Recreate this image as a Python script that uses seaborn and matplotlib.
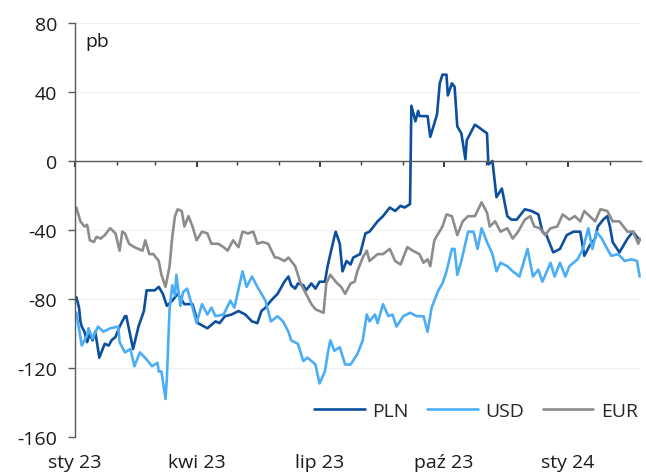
import pandas as pd
import seaborn as sns
import matplotlib.pyplot as plt
import matplotlib.dates as mdates
import matplotlib.transforms as mtransforms

# days counted from 1 Jan 2023, spread values in bp
pln_days = [1, 3, 4, 5, 7, 9, 11, 13, 15, 18, 20, 22, 25, 27, 30, 33, 37, 38, 43, 47,
            51, 53, 59, 62, 65, 68, 72, 76, 81, 87, 91, 98, 104, 107, 111, 116, 121, 126, 131, 135,
            138, 141, 145, 150, 155, 158, 160, 163, 165, 169, 171, 175, 178, 181, 185, 187, 189, 192, 193, 196,
            198, 201, 204, 206, 211, 215, 218, 224, 228, 233, 237, 241, 244, 246, 248, 249, 252, 254, 255, 261,
            263, 268, 270, 272, 275, 276, 279, 281, 283, 286, 289, 290, 296, 298, 305, 306, 309, 312, 316, 320,
            323, 327, 333, 338, 343, 346, 349, 354, 359, 364, 369, 374, 377, 381, 385, 387, 391, 394, 396, 398,
            403, 409, 413, 418]
pln_vals = [-79, -85, -93, -96, -99, -105, -100, -104, -99, -114, -110, -106, -107, -104, -102, -96, -90, -90, -109, -96,
            -87, -75, -75, -73, -77, -84, -81, -77, -83, -83, -94, -97, -93, -94, -90, -89, -87, -89, -93, -94,
            -87, -85, -81, -77, -70, -67, -72, -74, -71, -72, -75, -71, -74, -70, -70, -61, -54, -44, -41, -48,
            -64, -58, -60, -56, -54, -42, -41, -35, -32, -27, -29, -26, -27, -26, -25, 32, 23, 29, 26, 26,
            14, 27, 45, 50, 50, 38, 45, 43, 20, 16, 1, 12, 21, 20, 16, -2, 0, -21, -16, -32,
            -34, -34, -28, -29, -31, -41, -43, -53, -51, -43, -41, -41, -55, -49, -45, -38, -34, -32, -38, -47,
            -53, -45, -41, -46]

usd_days = [1, 5, 9, 10, 13, 17, 21, 26, 32, 33, 37, 41, 44, 48, 53, 57, 61, 62, 64, 67,
            68, 70, 72, 74, 75, 78, 80, 83, 87, 90, 94, 98, 101, 104, 110, 115, 118, 124, 127, 131,
            135, 138, 141, 145, 150, 154, 158, 160, 165, 169, 172, 178, 181, 185, 187, 189, 192, 196, 200, 204,
            209, 213, 216, 218, 222, 224, 228, 232, 235, 238, 243, 248, 253, 258, 261, 264, 269, 272, 275, 279,
            281, 283, 286, 291, 295, 298, 301, 305, 309, 312, 315, 320, 324, 329, 335, 339, 343, 346, 352, 355,
            359, 363, 366, 372, 376, 380, 383, 386, 390, 394, 397, 402, 407, 412, 416, 418]
usd_vals = [-88, -107, -101, -97, -103, -96, -99, -97, -96, -105, -111, -109, -119, -111, -115, -119, -117, -122, -122, -138,
            -126, -86, -72, -78, -66, -84, -76, -74, -85, -94, -83, -89, -85, -90, -89, -81, -85, -64, -73, -67,
            -73, -77, -81, -93, -90, -93, -99, -104, -106, -116, -114, -118, -129, -122, -112, -104, -110, -108, -118, -118,
            -112, -104, -89, -93, -89, -94, -83, -90, -89, -96, -90, -88, -90, -90, -99, -85, -75, -71, -64, -51,
            -51, -66, -58, -41, -41, -51, -39, -47, -54, -64, -59, -61, -64, -67, -51, -67, -63, -70, -59, -67,
            -59, -67, -61, -57, -51, -39, -51, -41, -45, -51, -55, -54, -58, -57, -58, -67]

eur_days = [1, 4, 7, 9, 11, 14, 16, 19, 22, 26, 30, 33, 35, 37, 40, 44, 50, 52, 55, 58,
            62, 64, 67, 70, 72, 74, 76, 79, 81, 84, 87, 90, 94, 98, 101, 106, 110, 113, 117, 121,
            124, 128, 132, 135, 139, 143, 148, 150, 155, 158, 163, 167, 171, 175, 178, 184, 186, 189, 193, 197,
            200, 204, 207, 209, 213, 216, 218, 224, 228, 233, 237, 241, 246, 250, 255, 258, 261, 263, 266, 272,
            275, 279, 283, 287, 291, 296, 301, 305, 307, 311, 315, 320, 324, 328, 333, 337, 340, 344, 348, 352,
            357, 361, 366, 370, 374, 377, 381, 385, 389, 394, 398, 403, 409, 413, 417, 418]
eur_vals = [-27, -35, -38, -37, -46, -47, -44, -45, -43, -39, -42, -52, -41, -42, -48, -50, -52, -46, -54, -54,
            -58, -66, -73, -61, -44, -32, -28, -29, -38, -32, -38, -46, -41, -42, -48, -48, -50, -52, -46, -50,
            -41, -42, -41, -48, -47, -48, -56, -56, -58, -56, -61, -71, -77, -83, -86, -88, -71, -66, -70, -73,
            -77, -71, -70, -64, -56, -52, -58, -54, -54, -51, -58, -60, -50, -52, -54, -59, -57, -61, -46, -38,
            -31, -32, -43, -35, -32, -32, -24, -30, -38, -35, -41, -39, -45, -41, -34, -32, -38, -39, -43, -39,
            -38, -31, -34, -32, -35, -29, -32, -35, -28, -29, -35, -35, -41, -41, -48, -45]

series_names = ["PLN", "USD", "EUR"]
colors = {"PLN": "#0b4f9e", "USD": "#4badf5", "EUR": "#8c8c8c"}

quarter_labels = ["sty 23", "kwi 23", "lip 23", "paź 23", "sty 24"]
quarter_dates = ["2023-01-01", "2023-04-01", "2023-07-01", "2023-10-01", "2024-01-01"]

start = pd.Timestamp("2023-01-01")

frames = []
for name, days, vals in [("PLN", pln_days, pln_vals), ("USD", usd_days, usd_vals), ("EUR", eur_days, eur_vals)]:
    frames.append(pd.DataFrame({
        "date": start + pd.to_timedelta(days, unit="D"),
        "value": vals,
        "series": name,
    }))
df = pd.concat(frames, ignore_index=True)

sns.set_theme(style="white")
plt.rcParams["font.family"] = ["Open Sans", "DejaVu Sans"]
plt.rcParams["axes.unicode_minus"] = False

fig = plt.figure(figsize=(6.46, 4.77), dpi=100)
ax = fig.add_axes([0.1161, 0.0818, 0.8762, 0.868])

sns.lineplot(data=df, x="date", y="value", hue="series", hue_order=series_names,
             palette=colors, linewidth=1.9, estimator=None, ax=ax)

ax.set_ylim(-160, 80)
ax.set_yticks(range(-160, 81, 40))
ax.set_xlim(start, start + pd.Timedelta(days=419))
ax.set_xlabel("")
ax.set_ylabel("")

# faint horizontal grid
ax.grid(axis="y", color="#efefef", linewidth=0.8)
ax.grid(axis="x", visible=False)
ax.set_axisbelow(True)

# axes: left spine, x axis line at zero
for s in ["top", "right"]:
    ax.spines[s].set_visible(False)
ax.spines["left"].set_color("#5a5a5a")
ax.spines["left"].set_linewidth(1.0)
ax.spines["bottom"].set_position(("data", 0))
ax.spines["bottom"].set_color("#5a5a5a")
ax.spines["bottom"].set_linewidth(1.0)

ax.xaxis.set_major_locator(mdates.MonthLocator(bymonth=[1, 4, 7, 10]))
ax.xaxis.set_minor_locator(mdates.MonthLocator())
ax.tick_params(axis="x", which="both", bottom=True, direction="out",
               labelbottom=False, color="#3a3a3a")
ax.tick_params(axis="x", which="major", length=4.5, width=1.4)
ax.tick_params(axis="x", which="minor", length=3, width=1.0)
ax.tick_params(axis="y", left=True, length=5, width=1.0, color="#5a5a5a",
               pad=8, labelsize=14, labelcolor="#1a1a1a")

# quarter labels under the plot
trans = mtransforms.blended_transform_factory(ax.transData, ax.transAxes)
for d, lab in zip(quarter_dates, quarter_labels):
    ax.text(mdates.date2num(pd.Timestamp(d)), -0.06, lab, transform=trans,
            ha="center", va="center", fontsize=14, color="#1a1a1a")

ax.text(0.018, 0.978, "pb", transform=ax.transAxes, ha="left", va="top",
        fontsize=14, color="#1a1a1a")

handles, labels = ax.get_legend_handles_labels()
ax.legend(handles, labels, loc="center right", bbox_to_anchor=(0.995, 0.063),
          ncol=3, frameon=False, fontsize=14, handlelength=2.6,
          handletextpad=0.4, columnspacing=0.95, borderpad=0, borderaxespad=0)

fig.savefig("out.png", dpi=100)
